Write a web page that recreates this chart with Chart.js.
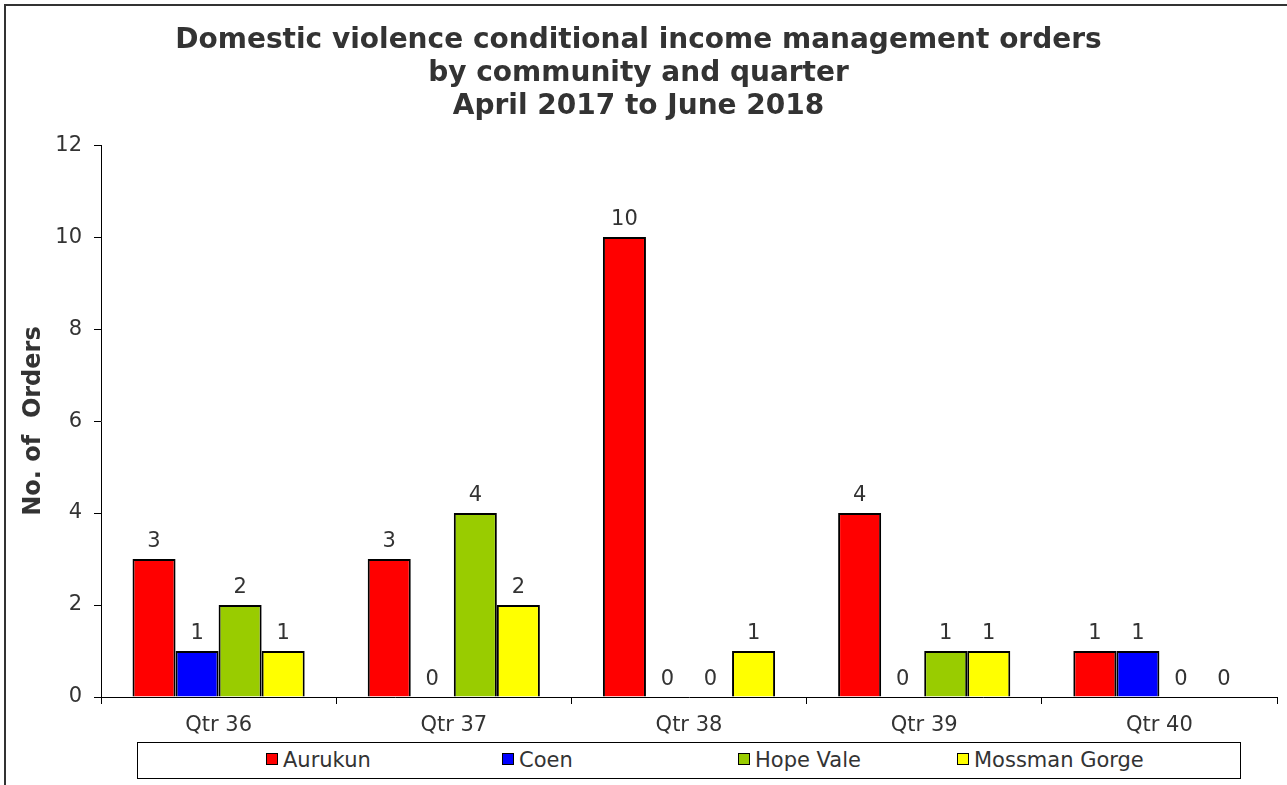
<!DOCTYPE html>
<html>
<head>
<meta charset="utf-8">
<script src="https://cdn.jsdelivr.net/npm/chart.js@4/dist/chart.umd.min.js"></script>
<style>
    body { margin: 0; background: #fff; font-family: "DejaVu Sans", Verdana, sans-serif; }
    #wrap { position: relative; width: 1287px; height: 785px; overflow: hidden; }
    #frame { position: absolute; left: 4px; top: 4px; width: 1300px; height: 800px;
             border-top: 2px solid #333; border-left: 2px solid #333; }
    canvas { position: absolute; left: 0; top: 0; }
    #legend { position: absolute; left: 137px; top: 742px; width: 1102px; height: 35px;
              border: 1px solid #000; background: #fff; }
    .item { position: absolute; top: 0; height: 35px; line-height: 35px; font-size: 21px; color: #333; white-space: nowrap; }
    .swatch { display: inline-block; width: 10px; height: 10px; border: 1.5px solid #000;
              vertical-align: middle; margin-right: 5px; position: relative; top: -2px; }
</style>
</head>
<body>
<div id="wrap">
    <div id="frame"></div>
    <canvas id="chart" width="1287" height="785"></canvas>
    <div id="legend"></div>
</div>
<script>
const quarters = ['Qtr 36', 'Qtr 37', 'Qtr 38', 'Qtr 39', 'Qtr 40'];
const communities = ['Aurukun', 'Coen', 'Hope Vale', 'Mossman Gorge'];
const aurukun = [3, 3, 10, 4, 1];
const coen = [1, 0, 0, 0, 1];
const hopeVale = [2, 4, 0, 1, 0];
const mossmanGorge = [1, 2, 1, 1, 0];
const colours = ['#FF0000', '#0000FF', '#99CC00', '#FFFF00'];
const yTicks = [0, 2, 4, 6, 8, 10, 12];

const font = 'DejaVu Sans';
const seriesValues = [aurukun, coen, hopeVale, mossmanGorge];

// value labels above each bar, zeros included
const barLabels = {
    id: 'barLabels',
    afterDatasetsDraw(chart) {
        const ctx = chart.ctx;
        ctx.save();
        ctx.font = '21px "' + font + '"';
        ctx.fillStyle = '#333';
        ctx.textAlign = 'center';
        ctx.textBaseline = 'bottom';
        chart.data.datasets.forEach((ds, i) => {
            chart.getDatasetMeta(i).data.forEach((bar, j) => {
                ctx.fillText(String(ds.data[j]), bar.x, bar.y - 7);
            });
        });
        ctx.restore();
    }
};

new Chart(document.getElementById('chart'), {
    type: 'bar',
    data: {
        labels: quarters,
        datasets: communities.map((name, i) => ({
            label: name,
            data: seriesValues[i],
            backgroundColor: colours[i],
            borderColor: '#000',
            borderWidth: 2,
            categoryPercentage: 0.732,
            barPercentage: 1
        }))
    },
    options: {
        responsive: false,
        animation: false,
        layout: { padding: { top: 0, right: 10, bottom: 48, left: 0 } },
        plugins: {
            legend: { display: false },
            tooltip: { enabled: false },
            title: {
                display: true,
                text: ['Domestic violence conditional income management orders',
                       'by community and quarter', 'April 2017 to June 2018'],
                color: '#333',
                font: { family: font, size: 28, weight: 'bold', lineHeight: 1.18 },
                padding: { top: 24, bottom: 22 }
            }
        },
        scales: {
            x: {
                grid: { drawOnChartArea: false, drawTicks: true, tickLength: 7, color: '#000', offset: true },
                border: { color: '#000', width: 1 },
                ticks: { color: '#333', font: { family: font, size: 21 }, padding: 9 },
                afterFit(scale) { scale.height = 40; }
            },
            y: {
                min: 0,
                max: 12,
                afterBuildTicks(scale) { scale.ticks = yTicks.map(v => ({ value: v })); },
                grid: { drawOnChartArea: false, drawTicks: true, tickLength: 7, color: '#000' },
                border: { color: '#000', width: 1 },
                ticks: { color: '#333', font: { family: font, size: 21 }, padding: 12 },
                title: {
                    display: true,
                    text: 'No. of  Orders',
                    color: '#333',
                    font: { family: font, size: 24, weight: 'bold' },
                    padding: { top: 19, bottom: 0 }
                },
                afterFit(scale) { scale.width = 101; }
            }
        }
    },
    plugins: [barLabels]
});

// legend box, laid out like the original
const legendX = [266, 502, 738, 957];
const legend = document.getElementById('legend');
communities.forEach((name, i) => {
    const item = document.createElement('div');
    item.className = 'item';
    item.style.left = (legendX[i] - 138) + 'px';
    const sw = document.createElement('span');
    sw.className = 'swatch';
    sw.style.background = colours[i];
    item.appendChild(sw);
    item.appendChild(document.createTextNode(name));
    legend.appendChild(item);
});
</script>
</body>
</html>
